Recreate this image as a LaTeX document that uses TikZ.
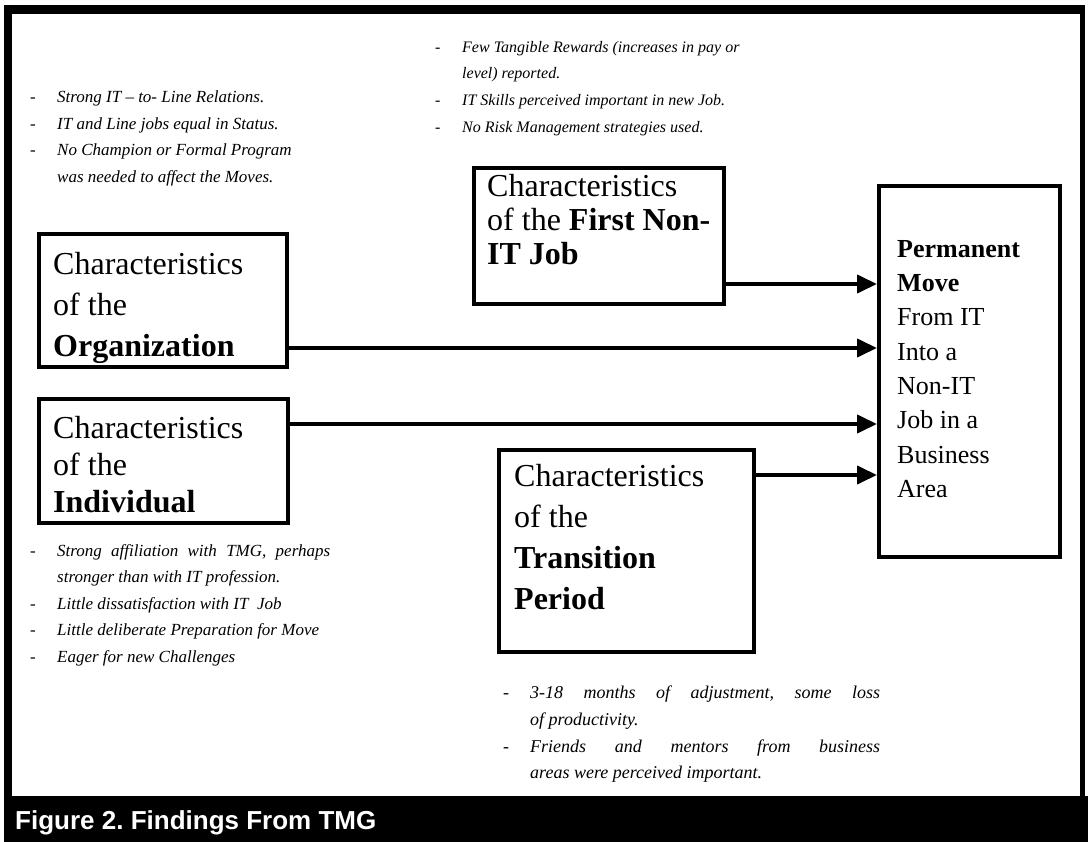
\documentclass[tikz,border=0pt]{standalone}
\usepackage{fontspec}
\setmainfont{Liberation Serif}
\newfontfamily\capfont{Liberation Sans}
\usetikzlibrary{arrows.meta}
\newcommand{\ndash}{\makebox[27pt][l]{\upshape -}}
\newcommand{\ncont}{\hspace*{27pt}}
\frenchspacing
\begin{document}
\begin{tikzpicture}[x=1pt,y=-1pt,
  box/.style={draw, line width=4pt, inner sep=0pt, anchor=north west},
  boxtext/.style={anchor=north west, inner sep=0pt, align=left},
  note/.style={anchor=north west, inner sep=0pt, align=left, font=\fontsize{17}{26.5}\selectfont\itshape},
  link/.style={line width=4pt, -{Triangle[length=20pt,width=18pt]}}
]
\useasboundingbox (0,0) rectangle (1088,842);
% frame
\fill[black] (4,5) rectangle (1085,14);
\fill[black] (4,5) rectangle (12,796);
\fill[black] (1080,5) rectangle (1085,796);
\fill[black] (4,796) rectangle (1088,842);
\node[anchor=base west, inner sep=0pt, text=white, font=\capfont\bfseries\fontsize{26}{30}\selectfont] (cap) at (15,829) {Figure 2. Findings From TMG};

% boxes
\node[box, minimum width=248pt, minimum height=133pt] (org) at (37,232) {};
\node[box, minimum width=249pt, minimum height=124pt] (ind) at (37,397) {};
\node[box, minimum width=250pt, minimum height=136pt] (first) at (472,166) {};
\node[box, minimum width=255pt, minimum height=202pt] (trans) at (497,448) {};
\node[box, minimum width=181pt, minimum height=371pt] (perm) at (877,184) {};

% box texts
\node[boxtext, font=\fontsize{32}{41}\selectfont] (orgt) at (53,252) {Characteristics\\of the\\\textbf{Organization}};
\node[boxtext, font=\fontsize{32}{37}\selectfont] (indt) at (53,416) {Characteristics\\of the\\\textbf{Individual}};
\node[boxtext, font=\fontsize{32}{34}\selectfont] (firstt) at (487,174) {Characteristics\\of the \textbf{First Non-}\\\textbf{IT Job}};
\node[boxtext, font=\fontsize{32}{41}\selectfont] (transt) at (514,464) {Characteristics\\of the\\\textbf{Transition}\\\textbf{Period}};
\node[boxtext, font=\fontsize{26}{34.3}\selectfont] (permt) at (897,240) {\textbf{Permanent}\\\textbf{Move}\\From IT\\Into a\\Non-IT\\Job in a\\Business\\Area};

% connectors
\draw[link] (first.east |- 0,284) -- (perm.west |- 0,284);
\draw[link] (org.east |- 0,348) -- (perm.west |- 0,348);
\draw[link] (ind.east |- 0,424) -- (perm.west |- 0,424);
\draw[link] (trans.east |- 0,475) -- (perm.west |- 0,475);

% notes
\node[note] (ntl) at (30,91) {\ndash Strong IT -- to- Line Relations.\\
\ndash IT and Line jobs equal in Status.\\
\ndash No Champion or Formal Program\\
\ncont was needed to affect the Moves.};
\node[note, font=\fontsize{16}{26.7}\selectfont\itshape] (ntr) at (435,41) {\ndash Few Tangible Rewards (increases in pay or\\
\ncont level) reported.\\
\ndash IT Skills perceived important in new Job.\\
\ndash No Risk Management strategies used.};
\node[note] (nbl) at (30,544) {\ndash \makebox[273pt][s]{Strong affiliation with TMG, perhaps}\\
\ncont stronger than with IT profession.\\
\ndash Little dissatisfaction with IT\ \ Job\\
\ndash Little deliberate Preparation for Move\\
\ndash Eager for new Challenges};
\node[note, font=\fontsize{18}{26.7}\selectfont\itshape] (nbr) at (503,686) {\ndash \makebox[350pt][s]{3-18 months of adjustment, some loss}\\
\ncont of productivity.\\
\ndash \makebox[350pt][s]{Friends and mentors from business}\\
\ncont areas were perceived important.};
\end{tikzpicture}
\end{document}
